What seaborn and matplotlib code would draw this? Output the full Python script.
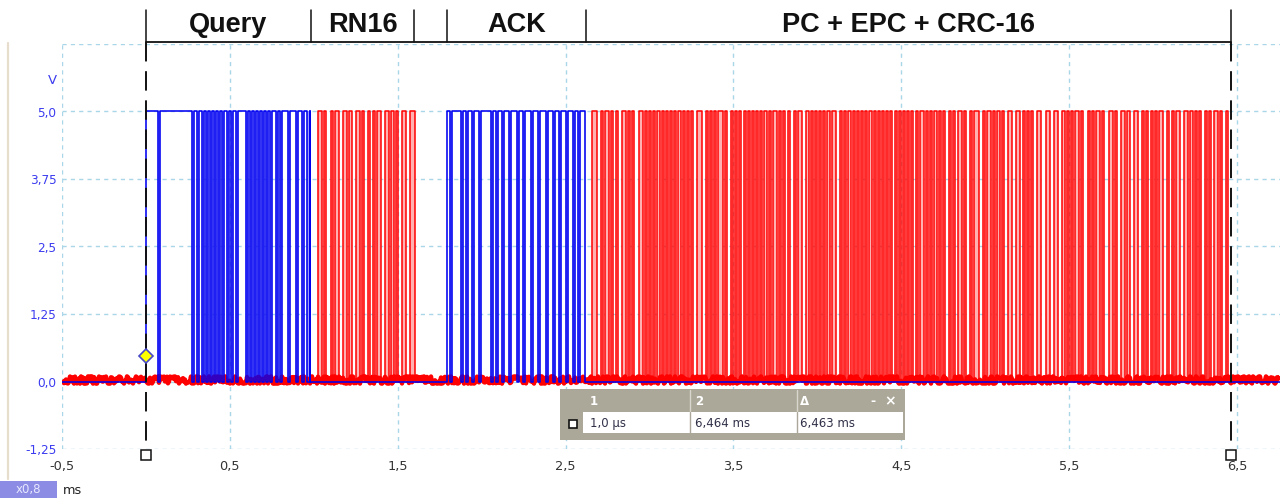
import numpy as np
import pandas as pd
import matplotlib
matplotlib.use("Agg")
import matplotlib.pyplot as plt
from matplotlib.patches import Rectangle
import seaborn as sns

# ---------------- data (times in ms, levels in V) ----------------
x_ticks = [-0.5, 0.5, 1.5, 2.5, 3.5, 4.5, 5.5, 6.5]
x_tick_labels = ["-0,5", "0,5", "1,5", "2,5", "3,5", "4,5", "5,5", "6,5"]
y_ticks = [-1.25, 0.0, 1.25, 2.5, 3.75, 5.0, 6.25]
y_tick_labels = ["-1,25", "0,0", "1,25", "2,5", "3,75", "5,0", ""]

high_level = 5.0
low_level = 0.0

# reader (blue) PIE signal: rise, low-pulse starts, final fall
query_rise = 0.0
query_pulses = [0.071, 0.274, 0.304, 0.334, 0.357, 0.381, 0.405, 0.429, 0.453,
                0.483, 0.506, 0.536, 0.596, 0.620, 0.643, 0.667, 0.691, 0.715,
                0.739, 0.774, 0.798, 0.846, 0.894, 0.929, 0.962]
query_fall = 0.980
ack_rise = 1.794
ack_pulses = [1.812, 1.877, 1.907, 1.943, 1.984, 2.056, 2.086, 2.121, 2.163,
              2.211, 2.246, 2.294, 2.336, 2.383, 2.425, 2.461, 2.502, 2.544,
              2.574]
ack_fall = 2.616
pulse_width = 0.0125

# tag (red) FM0 replies
tag_bit_ms = 0.025
rn16_start = 1.025
rn16_bits = "10101110110100111001111"
epc_start = 2.66
epc_hex = "D33000E2801160600002095A3C7F14B6E19C4A"

# segment brackets and labels
bracket_edges = [0.0, 0.983, 1.597, 1.794, 2.622, 6.464]
segment_labels = ["Query", "RN16", None, "ACK", "PC + EPC + CRC-16"]

# cursors
cursor_times = [0.001, 6.464]
trigger_level = 0.47
cursor_header = ["1", "2", "\u0394"]
cursor_values = ["1,0 \u00b5s", "6,464 ms", "6,463 ms"]

x_min, x_max = -0.5, 6.756
y_min, y_max = -1.25, 6.25

# ---------------- waveform construction ----------------
def pie_wave(rise, pulses, fall):
    t, v = [rise], [high_level]
    for p in pulses:
        t += [p, p + pulse_width]
        v += [low_level, high_level]
    t.append(fall)
    v.append(low_level)
    return t, v

def fm0_wave(start, bits):
    t, v = [start - 0.05], [low_level]
    level = low_level
    for i, b in enumerate(bits):
        t0 = start + i * tag_bit_ms
        level = high_level if level == low_level else low_level
        t.append(t0); v.append(level)
        if b == "0":
            level = high_level if level == low_level else low_level
            t.append(t0 + tag_bit_ms / 2); v.append(level)
    t.append(start + len(bits) * tag_bit_ms); v.append(low_level)
    t.append(t[-1] + 0.05); v.append(low_level)
    return t, v

def high_intervals(t, v):
    starts, widths = [], []
    for i in range(len(t) - 1):
        if v[i] == high_level:
            starts.append(t[i]); widths.append(t[i + 1] - t[i])
    return starts, widths

epc_bits = "".join(format(int(c, 16), "04b") for c in epc_hex)

qt, qv = pie_wave(query_rise, query_pulses, query_fall)
at, av = pie_wave(ack_rise, ack_pulses, ack_fall)
blue_df = pd.DataFrame({"t": [x_min] + qt + at + [x_max],
                        "v": [low_level] + qv + av + [low_level]})
rt, rv = fm0_wave(rn16_start, rn16_bits)
rn16_df = pd.DataFrame({"t": rt, "v": rv})
et, ev = fm0_wave(epc_start, epc_bits)
epc_df = pd.DataFrame({"t": et, "v": ev})

# ---------------- figure ----------------
sns.set_theme(style="white")
plt.rcParams["font.family"] = ["DejaVu Sans"]

W, H = 1288, 498
fig = plt.figure(figsize=(W / 100, H / 100), dpi=100)
AX_TOP, AX_BOT = 44, 449
ax = fig.add_axes([62 / W, 1 - AX_BOT / H, (1280 - 62) / W, (AX_BOT - AX_TOP) / H])
ax.set_xlim(x_min, x_max)
ax.set_ylim(y_min, y_max)
for s in ax.spines.values():
    s.set_visible(False)
ax.set_xticks(x_ticks)
ax.set_xticklabels(x_tick_labels)
ax.set_yticks(y_ticks)
ax.set_yticklabels(y_tick_labels)
ax.tick_params(axis="both", length=0)
ax.tick_params(axis="x", pad=8, labelsize=9.3, labelcolor="#333333")
ax.tick_params(axis="y", pad=4, labelsize=8.7, labelcolor="#3c3cf0")
ax.grid(True, color="#a9d6e8", linestyle=(0, (3, 3)), linewidth=1.0)
ax.set_axisbelow(True)

# light interiors of the pulses (scope persistence look)
for df in (rn16_df, epc_df):
    hs, hw = high_intervals(list(df["t"]), list(df["v"]))
    ax.bar(hs, [high_level] * len(hs), width=hw, align="edge", bottom=low_level,
           color="#ffb0b0", linewidth=0, zorder=1.5)
ax.bar(query_pulses + ack_pulses, [high_level] * (len(query_pulses) + len(ack_pulses)),
       width=pulse_width, align="edge", bottom=low_level,
       color="#9a9aff", linewidth=0, zorder=1.5)

# red noise band on the baseline
noise, = ax.plot([x_min, x_max], [0.03, 0.03], color="#ff0000", lw=3.2,
                 solid_capstyle="butt", zorder=2)
noise.set_sketch_params(scale=3.6, length=2.5, randomness=6)

sns.lineplot(data=rn16_df, x="t", y="v", drawstyle="steps-post", estimator=None,
             sort=False, color="#ff0000", linewidth=1.1, ax=ax, legend=False, zorder=3)
sns.lineplot(data=epc_df, x="t", y="v", drawstyle="steps-post", estimator=None,
             sort=False, color="#ff0000", linewidth=1.1, ax=ax, legend=False, zorder=3)
sns.lineplot(data=blue_df, x="t", y="v", drawstyle="steps-post", estimator=None,
             sort=False, color="#0000f0", linewidth=1.15, ax=ax, legend=False, zorder=4)
ax.set_xlabel("")
ax.set_ylabel("")
ax.set_xlim(x_min, x_max)
ax.set_ylim(y_min, y_max)

def ay(ypx):
    return (AX_BOT - ypx) / (AX_BOT - AX_TOP)

xt = ax.get_xaxis_transform()
# header brackets
for b in bracket_edges:
    ax.plot([b, b], [ay(10), ay(42)], color="#111111", lw=1.1, transform=xt,
            clip_on=False, zorder=6)
ax.plot([bracket_edges[0], bracket_edges[-1]], [ay(42), ay(42)], color="#111111",
        lw=1.3, transform=xt, clip_on=False, zorder=6)
for i, lab in enumerate(segment_labels):
    if lab:
        ax.text((bracket_edges[i] + bracket_edges[i + 1]) / 2, ay(25), lab,
                transform=xt, ha="center", va="center", fontsize=19.5,
                fontweight="bold", family=["Liberation Sans", "DejaVu Sans"],
                color="#111111", clip_on=False)

# cursors
for c in cursor_times:
    ax.plot([c, c], [ay(42), ay(451)], color="#111111", lw=1.4,
            linestyle=(0, (10, 5)), transform=xt, clip_on=False, zorder=7)
    ax.plot([c], [ay(455)], marker="s", ms=6.5, mfc="white", mec="#111111",
            mew=1.1, transform=xt, clip_on=False, zorder=8)
ax.plot([cursor_times[0]], [trigger_level], marker="D", ms=7.5, mfc="#ffff00",
        mec="#4848c8", mew=1.2, zorder=9, clip_on=False)

# ---------------- pixel overlay for instrument decorations ----------------
ov = fig.add_axes([0, 0, 1, 1], zorder=5)
ov.set_xlim(0, W)
ov.set_ylim(H, 0)
ov.axis("off")
ov.patch.set_alpha(0)

ov.plot([8, 8], [43, 479], color="#e6ddcc", lw=1.6)
ov.text(57, 80, "V", color="#3c3cf0", ha="right", va="center", fontsize=9.5)
ov.add_patch(Rectangle((0, 481), 57, 17, fc="#8c8ce4", ec="none"))
ov.text(28.5, 489.5, "x0,8", color="#e8e8ff", ha="center", va="center", fontsize=8.5)
ov.text(63, 490, "ms", color="#222222", ha="left", va="center", fontsize=9.3)

# cursor table
ov.add_patch(Rectangle((560, 389), 345, 51, fc="#aca899", ec="none"))
ov.add_patch(Rectangle((583, 412), 320, 21, fc="white", ec="none"))
for xs in (690, 797):
    ov.plot([xs, xs], [390, 411], color="#d9d6ce", lw=1.0)
    ov.plot([xs, xs], [412, 433], color="#aca899", lw=1.0)
ov.add_patch(Rectangle((569, 420), 8, 8, fc="white", ec="#111111", lw=1.2))
hx = [590, 695, 800]
for x, h in zip(hx, cursor_header):
    ov.text(x, 401.5, h, color="white", fontsize=8.5, fontweight="bold",
            ha="left", va="center")
ov.text(873, 401.5, "-", color="white", fontsize=9, fontweight="bold", ha="center", va="center")
ov.text(890, 401.5, "\u00d7", color="white", fontsize=10, fontweight="bold", ha="center", va="center")
for x, val in zip(hx, cursor_values):
    ov.text(x, 423, val, color="#303048", fontsize=8.5, ha="left", va="center")

fig.savefig("out.png", dpi=100)
